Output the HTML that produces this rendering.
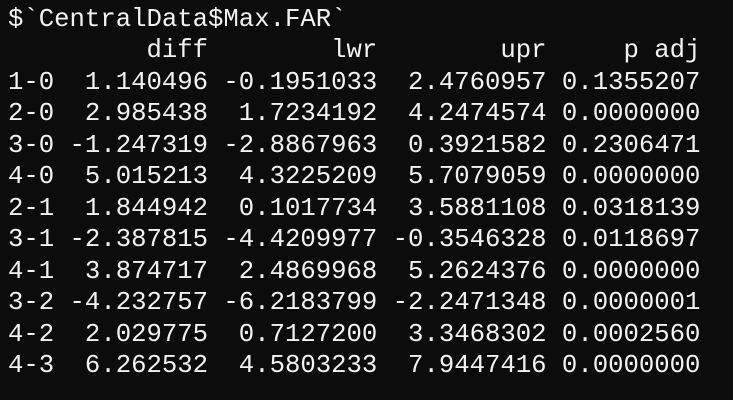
<!DOCTYPE html>
<html><head><meta charset="utf-8"><style>
html,body{margin:0;padding:0;background:#0c0c0c;width:733px;height:400px;overflow:hidden}
pre{margin:0;position:absolute;left:8px;top:4px;font-family:"Liberation Mono",monospace;font-size:25.65px;line-height:31.45px;color:#f2f2f2;white-space:pre}
</style></head><body>
<pre><span>$`CentralData$Max.FAR`</span>
<span>         diff        lwr        upr     p adj</span>
<span>1-0  1.140496 -0.1951033  2.4760957 0.1355207</span>
<span>2-0  2.985438  1.7234192  4.2474574 0.0000000</span>
<span>3-0 -1.247319 -2.8867963  0.3921582 0.2306471</span>
<span>4-0  5.015213  4.3225209  5.7079059 0.0000000</span>
<span>2-1  1.844942  0.1017734  3.5881108 0.0318139</span>
<span>3-1 -2.387815 -4.4209977 -0.3546328 0.0118697</span>
<span>4-1  3.874717  2.4869968  5.2624376 0.0000000</span>
<span>3-2 -4.232757 -6.2183799 -2.2471348 0.0000001</span>
<span>4-2  2.029775  0.7127200  3.3468302 0.0002560</span>
<span>4-3  6.262532  4.5803233  7.9447416 0.0000000</span></pre>
</body></html>
